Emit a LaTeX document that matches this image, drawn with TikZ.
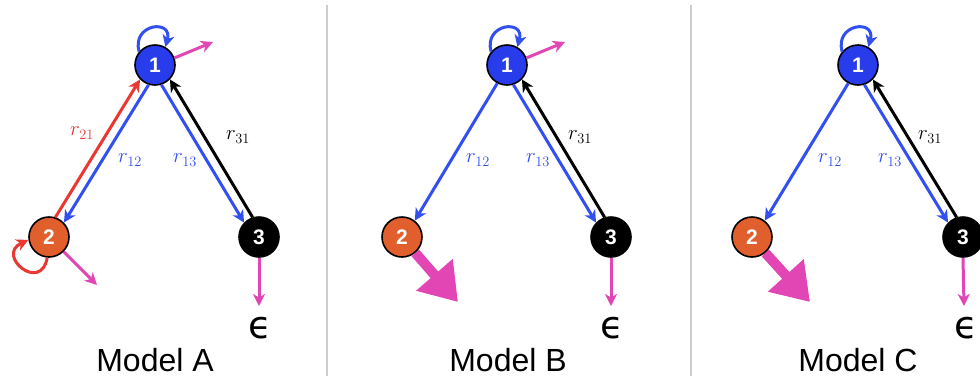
\documentclass[tikz,border=0pt]{standalone}
\usepackage{fontspec}
\setsansfont{Liberation Sans}
\newfontfamily\epsfont{DejaVu Sans}
\usetikzlibrary{arrows.meta}
\definecolor{nblue}{RGB}{40,60,235}
\definecolor{eblue}{RGB}{50,80,240}
\definecolor{norange}{RGB}{225,95,45}
\definecolor{ered}{RGB}{235,55,50}
\definecolor{epink}{RGB}{225,70,180}
\definecolor{sepgray}{RGB}{205,205,205}
\tikzset{
  x=1pt,y=-1pt,
  state/.style={circle,draw=black,line width=1.6pt,minimum size=40pt,inner sep=0pt,
    text=white,font=\sffamily\bfseries\fontsize{21}{21}\selectfont},
  tr/.style={line width=3pt,-{Stealth[length=12pt,width=12pt,inset=3.5pt]}},
  outf/.style={epink,line width=3pt,-{Stealth[length=12pt,width=12pt,inset=3.5pt]}},
  bigout/.style={epink,line width=10pt,-{Triangle[length=36pt,width=46pt]}},
  lab/.style={font=\fontsize{21}{21}\selectfont},
  model/.style={font=\sffamily\fontsize{32}{32}\selectfont},
  epsl/.style={font=\epsfont\fontsize{38}{38}\selectfont},
  sep/.style={sepgray,line width=2pt}
}
\begin{document}
\begin{tikzpicture}
\useasboundingbox (0,0) rectangle (980,381);
\fill[white] (0,0) rectangle (980,381);
\draw[sep] (327,5) coordinate (s1a) -- (327,376) coordinate (s1b);
\draw[sep] (691,5) coordinate (s2a) -- (691,376) coordinate (s2b);

% ---------- Model A ----------
\node[state,fill=nblue] (a1) at (155,65) {1};
\node[state,fill=norange] (a2) at (49,237) {2};
\node[state,fill=black] (a3) at (259,237) {3};
\draw[tr,eblue] (a1.252) -- (a2.44);
\draw[tr,ered] (a2.72) -- (a1.224);
\draw[tr,eblue] (a1.288) -- (a3.136);
\draw[tr,black] (a3.108) -- (a1.316);
\draw[tr,eblue] (a1.140) to[out=105,in=75,looseness=2.8] (a1.60);
\draw[tr,ered] (a2.265) to[out=-100,in=205,looseness=3.6] (a2.188);
\coordinate (a1o) at (213,42);
\coordinate (a2o) at (97,285);
\coordinate (a3o) at (259,306);
\draw[outf] (a1.20) -- (a1o);
\draw[outf] (a2.-45) -- (a2o);
\draw[outf] (a3.south) -- (a3o);
\node[lab,text=ered] (a21) at (82,133) {$r_{21}$};
\node[lab,text=eblue] (a12) at (130,160) {$r_{12}$};
\node[lab,text=eblue] (a13) at (185,160) {$r_{13}$};
\node[lab,text=black] (a31) at (238,137) {$r_{31}$};
\node[epsl] (ae) at (260,328) {ϵ};
\node[model] (am) at (155,360) {Model A};

% ---------- Model B ----------
\node[state,fill=nblue] (b1) at (507,65) {1};
\node[state,fill=norange] (b2) at (402,237) {2};
\node[state,fill=black] (b3) at (611,237) {3};
\draw[tr,eblue] (b1.242) -- (b2.52);
\draw[tr,eblue] (b1.288) -- (b3.136);
\draw[tr,black] (b3.108) -- (b1.316);
\draw[tr,eblue] (b1.140) to[out=105,in=75,looseness=2.8] (b1.60);
\coordinate (b1o) at (565,42);
\coordinate (b2o) at (458,302);
\coordinate (b3o) at (611,306);
\draw[outf] (b1.20) -- (b1o);
\draw[bigout] (b2.-50) -- (b2o);
\draw[outf] (b3.south) -- (b3o);
\node[lab,text=eblue] (b12) at (478,160) {$r_{12}$};
\node[lab,text=eblue] (b13) at (538,160) {$r_{13}$};
\node[lab,text=black] (b31) at (580,137) {$r_{31}$};
\node[epsl] (be) at (612,328) {ϵ};
\node[model] (bm) at (508,360) {Model B};

% ---------- Model C ----------
\node[state,fill=nblue] (c1) at (858,65) {1};
\node[state,fill=norange] (c2) at (752,237) {2};
\node[state,fill=black] (c3) at (963,237) {3};
\draw[tr,eblue] (c1.242) -- (c2.52);
\draw[tr,eblue] (c1.288) -- (c3.136);
\draw[tr,black] (c3.108) -- (c1.316);
\draw[tr,eblue] (c1.140) to[out=105,in=75,looseness=2.8] (c1.60);
\coordinate (c2o) at (810,302);
\coordinate (c3o) at (964,306);
\draw[bigout] (c2.-50) -- (c2o);
\draw[outf] (c3.south) -- (c3o);
\node[lab,text=eblue] (c12) at (830,160) {$r_{12}$};
\node[lab,text=eblue] (c13) at (890,160) {$r_{13}$};
\node[lab,text=black] (c31) at (930,137) {$r_{31}$};
\node[epsl] (ce) at (966,328) {ϵ};
\node[model] (cm) at (858,360) {Model C};
\end{tikzpicture}
\end{document}
